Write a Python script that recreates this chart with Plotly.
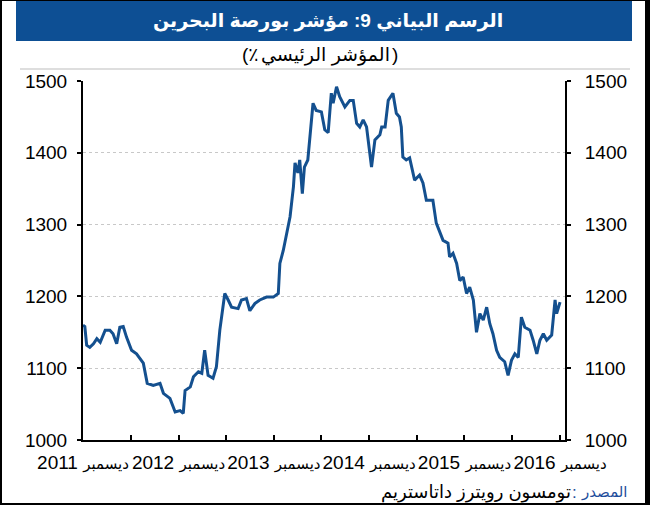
import plotly.graph_objects as go

# ---------------- data ----------------
dates = [
    "2011-12-01", "2011-12-08", "2011-12-15", "2011-12-27", "2012-01-10", "2012-01-23", "2012-02-05",
    "2012-02-24", "2012-03-13", "2012-03-25", "2012-04-08", "2012-04-20", "2012-05-03", "2012-05-16",
    "2012-06-04", "2012-06-23", "2012-07-19", "2012-08-03", "2012-08-26", "2012-09-21", "2012-10-04",
    "2012-10-29", "2012-11-18", "2012-12-07", "2012-12-19", "2012-12-26", "2013-01-15", "2013-01-27",
    "2013-02-15", "2013-02-28", "2013-03-11", "2013-03-24", "2013-04-12", "2013-04-25", "2013-05-08",
    "2013-05-27", "2013-06-09", "2013-06-22", "2013-07-17", "2013-07-30", "2013-08-18", "2013-08-31",
    "2013-09-19", "2013-10-08", "2013-11-03", "2013-11-29", "2013-12-18", "2013-12-24", "2014-01-06",
    "2014-01-19", "2014-02-01", "2014-02-14", "2014-02-20", "2014-03-03", "2014-03-10", "2014-03-20",
    "2014-03-28", "2014-04-10", "2014-04-17", "2014-04-30", "2014-05-12", "2014-06-01", "2014-06-14",
    "2014-06-27", "2014-07-09", "2014-07-16", "2014-07-29", "2014-08-10", "2014-08-30", "2014-09-18",
    "2014-10-01", "2014-10-14", "2014-10-26", "2014-11-08", "2014-11-21", "2014-12-04", "2014-12-10",
    "2014-12-23", "2015-01-11", "2015-01-18", "2015-01-31", "2015-02-12", "2015-03-02", "2015-03-15",
    "2015-03-27", "2015-04-03", "2015-04-09", "2015-04-22", "2015-05-05", "2015-05-24", "2015-06-12",
    "2015-06-25", "2015-07-08", "2015-08-02", "2015-08-15", "2015-09-10", "2015-09-29", "2015-10-05",
    "2015-10-18", "2015-11-01", "2015-11-13", "2015-11-26", "2015-12-09", "2015-12-21", "2016-01-04",
    "2016-01-16", "2016-01-29", "2016-02-11", "2016-02-24", "2016-03-07", "2016-03-19", "2016-04-02",
    "2016-04-14", "2016-05-03", "2016-05-16", "2016-05-29", "2016-06-11", "2016-06-24", "2016-07-06",
    "2016-07-19", "2016-08-08", "2016-08-20", "2016-09-03", "2016-09-15", "2016-09-28", "2016-10-11",
    "2016-10-30", "2016-11-12", "2016-11-18", "2016-12-01",
]
index_values = [
    1160, 1158, 1132, 1129, 1134, 1141, 1136,
    1153, 1153, 1148, 1134, 1157, 1158, 1143,
    1125, 1120, 1107, 1079, 1076, 1079, 1065,
    1058, 1039, 1041, 1037, 1069, 1074, 1088,
    1095, 1093, 1125, 1090, 1086, 1102, 1153,
    1204, 1195, 1185, 1183, 1195, 1197, 1180,
    1190, 1195, 1199, 1199, 1204, 1246, 1264,
    1288, 1311, 1353, 1386, 1372, 1390, 1343,
    1380, 1390, 1418, 1469, 1459, 1457, 1432,
    1428, 1483, 1469, 1492, 1478, 1464, 1473,
    1473, 1441, 1436, 1446, 1436, 1394, 1380,
    1418, 1425, 1436, 1436, 1473, 1483, 1455,
    1450, 1436, 1394, 1390, 1393, 1362, 1369,
    1358, 1334, 1334, 1302, 1278, 1274, 1255,
    1260, 1246, 1222, 1227, 1204, 1213, 1195,
    1150, 1176, 1167, 1185, 1162, 1148, 1125,
    1115, 1109, 1090, 1111, 1120, 1115, 1171,
    1157, 1153, 1139, 1120, 1139, 1148, 1139,
    1146, 1195, 1176, 1192,
]

tick_dates = ["2011-12-01", "2012-06-01", "2012-12-01", "2013-06-01", "2013-12-01", "2014-06-01",
              "2014-12-01", "2015-06-01", "2015-12-01", "2016-06-01", "2016-12-01"]
tick_years = ["2011", "", "2012", "", "2013", "", "2014", "", "2015", "", "2016"]
month_word = "ديسمبر"
y_ticks = [1000, 1100, 1200, 1300, 1400, 1500]

title_text = "الرسم البياني 9: مؤشر بورصة البحرين"
subtitle_words = "المؤشر الرئيسي"
subtitle_prefix = "(٪"
subtitle_suffix = ")"
source_label = "المصدر"
source_text = "تومسون رويترز داتاستريم"

# ---------------- layout helpers ----------------
W, H = 650, 505
L, R, T, B = 83, 85, 81, 65
PW, PH = W - L - R, H - T - B


def px(x):
    return (x - L) / PW


def py(y):
    return (H - B - y) / PH


FONT = "Arial, 'Liberation Sans', 'DejaVu Sans', sans-serif"
BLUE = "#0d4f94"
LINE = "#14508f"
SRC_BLUE = "#1f4e9c"

tick_text = [(f"<span style='font-size:15px'>{month_word}</span> {yr}" if yr else "") for yr in tick_years]

fig = go.Figure()
fig.add_trace(go.Scatter(x=dates, y=index_values, mode="lines",
                         line=dict(color=LINE, width=3), hoverinfo="skip", yaxis="y"))
fig.add_trace(go.Scatter(x=dates, y=index_values, mode="lines",
                         line=dict(color="rgba(0,0,0,0)", width=0), hoverinfo="skip", yaxis="y2",
                         showlegend=False))

axis_common = dict(range=[1000, 1500], tickvals=y_ticks, showline=True, linecolor="black",
                   linewidth=2, ticks="outside", ticklen=4, tickwidth=1.5, tickcolor="black",
                   tickfont=dict(family=FONT, size=19, color="black"), zeroline=False)


def ann(text, x, y, anchor, size, color, **font_extra):
    return dict(text=text, xref="paper", yref="paper", x=px(x), y=py(y), xanchor=anchor,
                yanchor="middle", showarrow=False,
                font=dict(family=FONT, size=size, color=color, **font_extra))


fig.update_layout(
    width=W, height=H, margin=dict(l=L, r=R, t=T, b=B),
    paper_bgcolor="white", plot_bgcolor="white", showlegend=False,
    xaxis=dict(type="date", range=["2011-12-01", "2016-12-20"], tickvals=tick_dates,
               ticktext=tick_text, ticks="inside", ticklen=5, tickwidth=1.5, tickcolor="black",
               showline=True, linecolor="black", linewidth=2, showgrid=False, zeroline=False,
               tickangle=0, ticklabelstandoff=4,
               tickfont=dict(family=FONT, size=19, color="black")),
    yaxis=dict(side="left", showgrid=True, gridcolor="#c8c8c8", griddash="dot", gridwidth=1,
               ticklabelstandoff=6, **axis_common),
    yaxis2=dict(side="right", overlaying="y", showgrid=False, ticklabelstandoff=10, **axis_common),
    shapes=[
        dict(type="rect", xref="paper", yref="paper", x0=px(16), x1=px(632), y0=py(41), y1=py(0),
             fillcolor=BLUE, line=dict(width=0), layer="below"),
        dict(type="line", xref="paper", yref="paper", x0=px(20), x1=px(630), y0=py(69), y1=py(69),
             line=dict(color="#bdbdbd", width=1)),
        # outer frame
        dict(type="line", xref="paper", yref="paper", x0=px(1), x1=px(1), y0=py(0), y1=py(505),
             line=dict(color="black", width=2)),
        dict(type="line", xref="paper", yref="paper", x0=px(0), x1=px(650), y0=py(504), y1=py(504),
             line=dict(color="black", width=2)),
        dict(type="line", xref="paper", yref="paper", x0=px(0), x1=px(650), y0=py(0.5), y1=py(0.5),
             line=dict(color="black", width=1)),
        dict(type="rect", xref="paper", yref="paper", x0=px(645), x1=px(650), y0=py(505), y1=py(0),
             fillcolor="black", line=dict(width=0)),
    ],
    annotations=[
        ann(title_text, 328, 21, "center", 19, "white", weight="bold"),
        ann(subtitle_prefix, 240, 55, "left", 19, "black"),
        ann(subtitle_words, 392, 55, "right", 19, "black"),
        ann(subtitle_suffix, 400, 55, "right", 19, "black"),
        ann(source_label, 630, 492, "right", 15, SRC_BLUE),
        ann(":", 579, 492, "right", 17, SRC_BLUE),
        ann(source_text, 573, 492, "right", 18, "black"),
    ],
)

fig.write_html("out.html")
